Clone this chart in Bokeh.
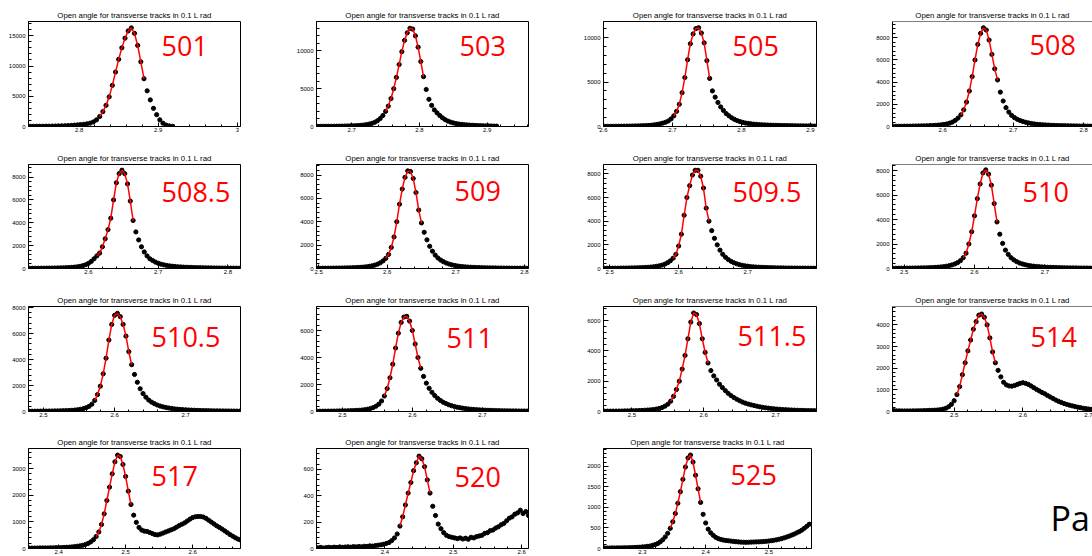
import math
import numpy as np
from bokeh.plotting import figure
from bokeh.layouts import column, row
from bokeh.models import Range1d, FixedTicker, SingleIntervalTicker, PrintfTickFormatter, Label, Span
from bokeh.embed import file_html
from bokeh.resources import INLINE

TITLE = "Open angle for transverse tracks in 0.1 L rad"
BIN_WIDTH = 0.004
NOTE_TEXT = "Pa"

run_labels = ["501", "503", "505", "508", "508.5", "509", "509.5", "510",
              "510.5", "511", "511.5", "514", "517", "520", "525"]

first_bins = [2.738, 2.650, 2.602, 2.530, 2.516, 2.498, 2.492, 2.484,
              2.480, 2.464, 2.462, 2.412, 2.356, 2.302, 2.240]

fit_low = [2.826, 2.750, 2.702, 2.626, 2.612, 2.598, 2.592, 2.584,
           2.572, 2.560, 2.554, 2.504, 2.456, 2.422, 2.344]
fit_high = [2.882, 2.806, 2.754, 2.678, 2.664, 2.650, 2.644, 2.632,
            2.624, 2.612, 2.606, 2.560, 2.508, 2.466, 2.392]

x_tick_values = [[2.8, 2.9, 3.0], [2.7, 2.8, 2.9], [2.6, 2.7, 2.8, 2.9], [2.6, 2.7, 2.8],
                 [2.6, 2.7, 2.8], [2.5, 2.6, 2.7, 2.8], [2.5, 2.6, 2.7], [2.5, 2.6, 2.7],
                 [2.5, 2.6, 2.7], [2.5, 2.6, 2.7], [2.5, 2.6, 2.7], [2.5, 2.6, 2.7],
                 [2.4, 2.5, 2.6], [2.4, 2.5, 2.6], [2.3, 2.4, 2.5]]
y_tick_steps = [5000, 5000, 5000, 2000, 2000, 2000, 2000, 2000,
                2000, 2000, 2000, 1000, 1000, 200, 500]

counts_501 = [30, 30, 35, 40, 45, 50, 55, 65, 75, 90, 105, 125, 150, 180, 220, 260, 310, 370, 450, 560,
              750, 1100, 1650, 2450, 3500, 4900, 6800, 9000, 11100, 13000, 14600, 15800, 16300, 15400,
              13400, 10700, 7900, 5900, 4400, 3000, 1950, 1100, 550, 240, 90, 30]
counts_503 = [20, 20, 25, 25, 30, 30, 35, 40, 45, 50, 60, 70, 80, 90, 110, 130, 160, 200, 250, 320,
              420, 560, 760, 1050, 1450, 2000, 2700, 3700, 5000, 6500, 8200, 9900, 11400, 12400, 13000,
              12900, 12000, 10500, 8600, 6600, 4900, 3600, 2800, 2200, 1800, 1450, 1150, 900, 720, 580,
              470, 390, 330, 280, 240, 210, 180, 160, 140, 120, 105, 95, 85, 75, 65, 55, 50]
counts_505 = [20, 20, 25, 25, 30, 30, 35, 40, 45, 50, 55, 60, 70, 80, 90, 105, 120, 150, 190, 240,
              300, 380, 480, 620, 850, 1200, 1700, 2500, 3800, 5500, 7500, 9300, 10400, 11000, 11100,
              10500, 9400, 7400, 5400, 4000, 3300, 2700, 2200, 1800, 1450, 1200, 980, 800, 660, 550,
              460, 390, 340, 300, 265, 235, 210, 190, 175, 160, 150, 140, 130, 120, 115, 110, 100, 95,
              90, 85, 80, 75, 70, 65, 60, 55, 50]
counts_508 = [20, 20, 25, 25, 30, 30, 35, 40, 45, 50, 55, 60, 70, 80, 90, 105, 125, 150, 185, 230,
              300, 400, 550, 760, 1050, 1500, 2200, 3200, 4500, 6000, 7400, 8400, 8900, 8700, 7800,
              6500, 5200, 4200, 3100, 2300, 1700, 1300, 1000, 800, 650, 540, 450, 380, 320, 270,
              230, 200, 180, 160, 140, 125, 110, 100, 90, 80, 75, 70, 65, 60, 55, 50, 45, 40, 38, 35, 30]
counts_508_5 = [20, 20, 22, 24, 26, 28, 30, 34, 38, 42, 48, 55, 62, 72, 85, 100, 120, 150, 190, 250,
                330, 450, 620, 850, 1100, 1350, 1900, 2600, 3400, 4400, 6000, 7500, 8300, 8600, 8300,
                7400, 5900, 4200, 3200, 2500, 1900, 1450, 1100, 850, 700, 560, 460, 380, 320, 270,
                230, 200, 175, 155, 135, 120, 110, 100, 90, 80, 75, 70, 65, 60, 55, 50, 46, 42, 40, 36,
                34, 32, 30, 28, 26, 24]
counts_509 = [20, 22, 24, 26, 28, 30, 33, 36, 40, 44, 48, 54, 60, 68, 78, 90, 105, 125, 150, 185,
              230, 290, 370, 490, 650, 870, 1200, 1800, 2700, 4000, 5500, 6800, 7800, 8350, 8300,
              7700, 6500, 5000, 3900, 3100, 2450, 1900, 1480, 1150, 900, 720, 580, 470, 385, 320,
              265, 220, 185, 160, 140, 122, 108, 96, 86, 78, 70, 64, 58, 53, 49, 45, 42, 39, 36, 34,
              32, 30, 28, 26, 25, 24, 23, 22]
counts_509_5 = [20, 22, 24, 26, 28, 30, 33, 36, 40, 44, 48, 54, 60, 68, 78, 90, 105, 125, 150, 185,
                230, 290, 370, 490, 650, 870, 1200, 1900, 2900, 4500, 6000, 7000, 7900, 8300, 8300,
                7800, 6800, 5100, 4000, 3200, 2550, 2000, 1550, 1200, 950, 760, 610, 490, 400, 330,
                275, 230, 195, 165, 140, 125, 110, 100, 90, 80, 72, 66, 60, 55, 50, 46, 42, 40, 38, 36,
                34, 32, 30, 28, 26, 25, 24, 23]
counts_510 = [20, 22, 24, 26, 28, 30, 33, 36, 40, 44, 48, 54, 60, 68, 78, 90, 105, 125, 150, 185,
              230, 290, 370, 480, 640, 880, 1250, 2000, 3000, 4300, 5700, 6900, 7800, 8050, 7700,
              6800, 5300, 3800, 2800, 2050, 1500, 1150, 880, 700, 560, 450, 370, 310, 260, 220,
              190, 165, 145, 128, 115, 104, 95, 86, 78, 72, 66, 60, 56, 52, 48, 45, 42, 40, 38, 36, 34, 32]
counts_510_5 = [20, 22, 24, 26, 28, 30, 33, 36, 40, 44, 48, 54, 60, 68, 78, 90, 110, 135, 170, 220,
                290, 390, 560, 850, 1300, 1950, 2900, 4100, 5500, 6700, 7400, 7550, 7300, 6700, 5800,
                4600, 3600, 2850, 2250, 1750, 1380, 1100, 880, 720, 600, 500, 420, 360, 310, 270,
                235, 205, 180, 160, 142, 128, 115, 104, 95, 86, 78, 72, 66, 60, 56, 52, 48, 45, 42, 40,
                38, 36, 34, 32, 30]
counts_511 = [20, 22, 24, 26, 28, 30, 33, 36, 40, 44, 48, 54, 60, 68, 78, 90, 110, 135, 170, 220,
              290, 390, 540, 780, 1150, 1700, 2500, 3500, 4700, 5800, 6600, 7000, 7050, 6700, 6000,
              5000, 4000, 3200, 2600, 2100, 1720, 1420, 1180, 980, 820, 690, 590, 500, 430, 370,
              320, 280, 245, 215, 190, 168, 150, 134, 120, 108, 98, 89, 81, 74, 68, 62, 57, 53, 49, 46,
              43, 40, 38, 36, 34, 32]
counts_511_5 = [20, 22, 24, 26, 28, 30, 33, 36, 40, 45, 50, 56, 63, 72, 82, 95, 110, 130, 160, 200,
                260, 350, 480, 680, 1000, 1450, 2000, 2800, 3700, 4800, 5900, 6500, 6400, 5800, 4800,
                3900, 3200, 2700, 2350, 2080, 1800, 1580, 1380, 1200, 1050, 920, 810, 710, 620, 550,
                490, 440, 395, 350, 310, 275, 245, 220, 198, 178, 160, 145, 130, 118, 107, 98, 90, 82,
                76, 70, 65, 60, 56, 52, 48]
counts_514 = [40, 30, 30, 25, 25, 25, 25, 30, 30, 35, 35, 40, 45, 50, 55, 60, 70, 85, 110, 150,
              220, 330, 500, 780, 1150, 1700, 2250, 2800, 3300, 3800, 4150, 4450, 4500, 4350, 4000,
              3400, 2750, 2250, 1900, 1600, 1350, 1230, 1180, 1170, 1200, 1250, 1300, 1330, 1300, 1250,
              1180, 1100, 1020, 950, 880, 820, 740, 670, 600, 530, 470, 420, 370, 330, 290, 260, 230,
              200, 175, 150, 130, 115, 100]
counts_517 = [15, 15, 15, 15, 20, 20, 20, 20, 25, 25, 30, 30, 35, 40, 45, 50, 60, 70, 85, 100,
              120, 150, 190, 250, 330, 450, 620, 900, 1300, 1800, 2300, 2800, 3250, 3500, 3450,
              3150, 2700, 2150, 1650, 1250, 980, 790, 690, 650, 640, 600, 560, 520, 510, 540,
              580, 620, 660, 700, 740, 800, 860, 910, 960, 1030, 1100, 1160, 1190, 1200, 1200, 1180,
              1130, 1060, 990, 920, 850, 790, 730, 660, 590, 520, 460, 400, 350, 310]
counts_520 = [5, 8, 4, 6, 9, 7, 10, 8, 12, 9, 11, 13, 10, 14, 12, 15, 13, 17, 16, 20, 18, 22, 25, 28, 32,
              38, 45, 60, 80, 110, 170, 240, 330, 420, 500, 590, 650, 700, 680, 620, 520, 420, 320,
              250, 185, 150, 120, 100, 90, 85, 80, 75, 80, 72, 78, 70, 85, 80, 90, 95, 100, 115, 120,
              135, 140, 155, 165, 180, 190, 210, 230, 240, 260, 270, 290, 265, 280, 250]
counts_525 = [10, 12, 10, 14, 12, 15, 14, 16, 18, 17, 20, 22, 25, 28, 32, 36, 42, 50, 60, 75,
              95, 120, 160, 210, 280, 370, 490, 650, 850, 1100, 1380, 1680, 1980, 2200, 2270, 2100,
              1780, 1450, 1120, 830, 620, 470, 380, 320, 270, 240, 220, 205, 195, 188, 180, 172, 165,
              160, 155, 152, 150, 152, 155, 158, 160, 162, 165, 170, 175, 182, 190, 200, 212, 225,
              240, 258, 278, 300, 325, 350, 380, 410, 445, 490, 540, 590]

all_counts = [counts_501, counts_503, counts_505, counts_508, counts_508_5, counts_509, counts_509_5,
              counts_510, counts_510_5, counts_511, counts_511_5, counts_514, counts_517, counts_520,
              counts_525]

# ---- layout configuration (axis windows, placement) ----
x_windows = [(2.736, 3.004), (2.648, 2.961), (2.600, 2.909), (2.529, 2.8127),
             (2.514, 2.818), (2.497, 2.806), (2.491, 2.800), (2.4834, 2.7678),
             (2.479, 2.777), (2.463, 2.766), (2.4605, 2.757), (2.4102, 2.7015),
             (2.355, 2.6715), (2.300, 2.610), (2.2384, 2.5674)]
y_tops = [17360, 13900, 11800, 9470, 9100, 8900, 8790, 8490, 8080, 7780, 6930, 4850, 3750, 758, 2430]

col_widths = [280, 280, 280, 252]
col_borders = [(28, 40), (36, 32), (43, 24), (52, 0)]
row_heights = [140, 142, 142, 132]
row_borders = [(21, 14), (24, 14), (24, 13), (24, 3)]
row_frame_h = [105, 104, 105, 99]
LABEL_LIFT = 10
label_offsets = [(133, 34), (143, 34), (129, 34), (137, 33),
                 (133, 37.5), (138, 36.5), (129, 37.5), (130, 37.5),
                 (123, 40.5), (130, 41), (134, 39.5), (138, 40),
                 (123, 36), (138, 37), (127, 35)]


def build_panel(i, r, c):
    x0, x1 = x_windows[i]
    bl, br = col_borders[c]
    if run_labels[i] == "525":
        br = 29
    bt, bb = row_borders[r]
    p = figure(width=col_widths[c], height=row_heights[r],
               x_range=Range1d(x0, x1), y_range=Range1d(0, y_tops[i]),
               output_backend="svg", toolbar_location=None, tools="",
               min_border_left=bl, min_border_right=br,
               min_border_top=bt, min_border_bottom=bb, title=TITLE)
    p.title.text_font = "Liberation Sans"
    p.title.text_font_size = "7.8px"
    p.title.text_font_style = "normal"
    p.title.text_color = "black"
    p.title.align = "center"
    p.title.standoff = 4
    p.background_fill_color = "white"
    p.border_fill_color = "white"
    p.xgrid.visible = False
    p.ygrid.visible = False
    if c == 3:
        # the slide crops this column at its right edge: no right border line
        p.outline_line_color = None
        p.add_layout(Span(location=y_tops[i], dimension="width", line_color="black", line_width=1))
    else:
        p.outline_line_color = "black"
        p.outline_line_alpha = 1.0
        p.outline_line_width = 1

    minors = [round(k * 0.02, 4) for k in range(math.ceil(x0 / 0.02), math.floor(x1 / 0.02) + 1)]
    p.xaxis.ticker = FixedTicker(ticks=x_tick_values[i], minor_ticks=minors)
    p.xaxis.formatter = PrintfTickFormatter(format="%g")
    p.yaxis.ticker = SingleIntervalTicker(interval=y_tick_steps[i], num_minor_ticks=5)
    p.yaxis.formatter = PrintfTickFormatter(format="%d")
    for ax in (p.xaxis[0], p.yaxis[0]):
        ax.axis_line_color = "black"
        ax.major_tick_line_color = "black"
        ax.minor_tick_line_color = "black"
        ax.major_tick_out = 0
        ax.minor_tick_out = 0
        ax.major_label_text_font = "Liberation Sans"
        ax.major_label_text_font_size = "6px"
        ax.major_label_text_color = "black"
    p.xaxis.major_tick_in = 4
    p.xaxis.minor_tick_in = 2
    p.xaxis.major_label_standoff = 1
    p.yaxis.major_tick_in = 5
    p.yaxis.minor_tick_in = 3
    p.yaxis.major_label_standoff = 3

    counts = np.array(all_counts[i], dtype=float)
    xs = first_bins[i] + BIN_WIDTH * np.arange(len(counts))
    p.scatter(xs, counts, marker="circle", size=4.2, fill_color="black", line_color="black")
    m = (xs >= fit_low[i] - 1e-9) & (xs <= fit_high[i] + 1e-9)
    p.line(xs[m], counts[m], line_color="#ff0000", line_width=1.5)

    dx, dt = label_offsets[i]
    p.add_layout(Label(x=dx, y=row_frame_h[r] - dt + LABEL_LIFT, x_units="screen", y_units="screen",
                       text=run_labels[i], text_color="#ff0000", text_font="Open Sans",
                       text_font_size="27px", text_baseline="alphabetic", text_align="left"))
    return p


rows = []
idx = 0
for r in range(4):
    figs = []
    for c in range(4):
        if idx < len(run_labels):
            figs.append(build_panel(idx, r, c))
            idx += 1
        else:
            q = figure(width=col_widths[c], height=row_heights[r], x_range=Range1d(0, 1),
                       y_range=Range1d(0, 1), x_axis_type=None, y_axis_type=None,
                       output_backend="svg", toolbar_location=None, tools="",
                       min_border=0, min_border_left=0, min_border_right=0,
                       min_border_top=0, min_border_bottom=0)
            q.outline_line_color = None
            q.background_fill_color = "white"
            q.border_fill_color = "white"
            q.add_layout(Label(x=210, y=31, x_units="screen", y_units="screen", text=NOTE_TEXT,
                               text_color="black", text_font="Open Sans", text_font_size="34px",
                               text_baseline="alphabetic"))
            figs.append(q)
    rows.append(row(*figs, spacing=0))

layout = column(*rows, spacing=0)
open("out.html", "w").write(file_html(layout, INLINE))
